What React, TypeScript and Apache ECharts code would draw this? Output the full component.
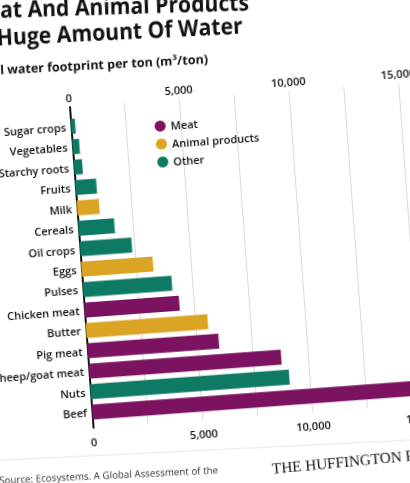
import React, { useEffect, useRef } from "react";
import * as echarts from "echarts";

const categories = [
  "Sugar crops", "Vegetables", "Starchy roots", "Fruits", "Milk", "Cereals", "Oil crops",
  "Eggs", "Pulses", "Chicken meat", "Butter", "Pig meat", "Sheep/goat meat", "Nuts", "Beef",
];
const footprint = [197, 322, 387, 962, 1020, 1644, 2364, 3265, 4055, 4325, 5553, 5988, 8763, 9063, 15415];
const groupOf = [
  "Other", "Other", "Other", "Other", "Animal products", "Other", "Other",
  "Animal products", "Other", "Meat", "Animal products", "Meat", "Meat", "Other", "Meat",
];
const groupNames = ["Meat", "Animal products", "Other"];
const groupColors = ["#7b1361", "#dba424", "#0e7a64"];
const axisMax = 17500;
const gridStep = 2500;
const labelStep = 5000;

const titleLine1 = "Meat And Animal Products";
const titleLine2 = "Use A Huge Amount Of Water";
const subtitle = "Global water footprint per ton (m³/ton)";
const sourceText = "Source: Ecosystems. A Global Assessment of the";
const brand = "THE HUFFINGTON POST";

const FONT = "'Open Sans', 'DejaVu Sans', sans-serif";

export default function App() {
  const ref = useRef<HTMLDivElement>(null);
  useEffect(() => {
    if (!ref.current) return;
    const chart = echarts.init(ref.current, null, { renderer: "svg" });
    const fmt = (v: number) => (v % labelStep === 0 ? v.toLocaleString("en-US") : "");
    const topBottomAxis = (position: "top" | "bottom", margin: number, split: boolean) => ({
      gridIndex: 1,
      type: "value",
      position,
      min: 0,
      max: axisMax,
      interval: gridStep,
      axisLine: { show: false },
      axisTick: { show: false },
      splitLine: { show: split, lineStyle: { color: "#dadada", width: 1 } },
      axisLabel: { formatter: fmt, margin, fontSize: 11, fontWeight: 600, fontFamily: FONT, color: "#111" },
    });
    chart.setOption({
      animation: false,
      backgroundColor: "#ffffff",
      legend: {
        data: groupNames,
        orient: "vertical",
        left: 190,
        top: 167,
        icon: "circle",
        itemWidth: 11,
        itemHeight: 11,
        itemGap: 7,
        textStyle: { fontSize: 11, fontWeight: 600, fontFamily: FONT, color: "#111" },
      },
      grid: [
        { left: 111.5, top: 161, width: 385, height: 307, containLabel: false },
        { left: 111.5, top: 152, width: 385, height: 321.5, containLabel: false },
      ],
      xAxis: [
        { gridIndex: 0, type: "value", min: 0, max: axisMax, show: false },
        topBottomAxis("top", 4, true),
        topBottomAxis("bottom", 8, false),
      ],
      yAxis: [
        {
          gridIndex: 0,
          type: "category",
          inverse: true,
          data: categories,
          axisLine: { show: false },
          axisTick: { show: false },
          axisLabel: { margin: 5, fontSize: 11, fontWeight: 600, fontFamily: FONT, color: "#111" },
        },
        {
          gridIndex: 1,
          type: "value",
          min: 0,
          max: 1,
          axisLine: { show: true, lineStyle: { color: "#111", width: 2 } },
          axisTick: { show: false },
          axisLabel: { show: false },
          splitLine: { show: false },
        },
      ],
      series: [
        ...groupNames.map((name, gi) => ({
          name,
          type: "bar",
          xAxisIndex: 0,
          yAxisIndex: 0,
          stack: "all",
          barWidth: 15,
          itemStyle: { color: groupColors[gi] },
          data: footprint.map((v, i) => (groupOf[i] === name ? v : "-")),
        })),
        { type: "scatter", xAxisIndex: 1, yAxisIndex: 1, data: [], silent: true },
      ],
      graphic: [
        {
          type: "text", x: 17, y: 47, rotation: -0.044, scaleX: 0.92,
          style: { text: titleLine1, fontSize: 23, fontWeight: "bold", fontFamily: FONT, fill: "#111", align: "left", verticalAlign: "middle" },
        },
        {
          type: "text", x: 290, y: 82, rotation: -0.0245, scaleX: 0.92,
          style: { text: titleLine2, fontSize: 23, fontWeight: "bold", fontFamily: FONT, fill: "#111", align: "right", verticalAlign: "middle" },
        },
        {
          type: "text", x: 253, y: 114, rotation: -0.021,
          style: { text: subtitle, fontSize: 12.5, fontWeight: "bold", fontFamily: FONT, fill: "#111", align: "right", verticalAlign: "middle" },
        },
        {
          type: "line", shape: { x1: 16, y1: 499, x2: 427, y2: 509 },
          style: { stroke: "#e8e8e8", lineWidth: 1 },
        },
        {
          type: "text", x: 14, y: 519, rotation: -0.026,
          style: { text: sourceText, fontSize: 9.8, fontFamily: FONT, fill: "#333", align: "left", verticalAlign: "middle" },
        },
        {
          type: "text", x: 287, y: 527, rotation: 0.022,
          style: { text: brand, fontSize: 15.2, fontFamily: "'Liberation Serif', 'DejaVu Serif', serif", fill: "#111", align: "left", verticalAlign: "middle" },
        },
      ],
    });
    return () => chart.dispose();
  }, []);
  return (
    <div
      ref={ref}
      style={{
        position: "fixed",
        left: -50,
        top: -40,
        width: 520,
        height: 580,
        transform: "rotate(-4.2deg)",
        transformOrigin: "50px 40px",
        background: "#fff",
      }}
    />
  );
}
